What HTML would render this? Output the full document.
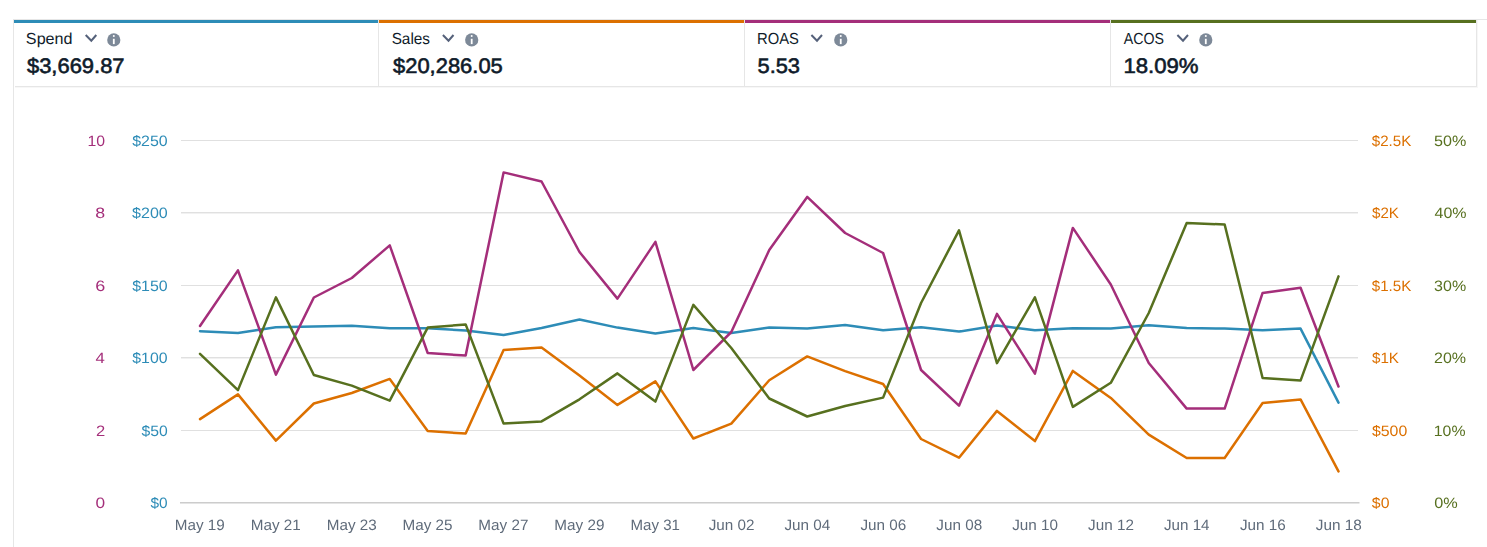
<!DOCTYPE html><html><head><meta charset="utf-8"><style>html,body{margin:0;padding:0;background:#fff;width:1487px;height:547px;overflow:hidden}svg{display:block}text{font-family:"Liberation Sans",sans-serif;text-rendering:geometricPrecision}</style></head><body>
<svg width="1487" height="547" viewBox="0 0 1487 547">
<rect x="13" y="19" width="1474" height="1" fill="#e6e6e6"/>
<rect x="13" y="19" width="1" height="528" fill="#e6e6e6"/>
<rect x="378" y="19" width="1" height="68" fill="#e6e6e6"/>
<rect x="744" y="19" width="1" height="68" fill="#e6e6e6"/>
<rect x="1110" y="19" width="1" height="68" fill="#e6e6e6"/>
<rect x="1476" y="19" width="1" height="68" fill="#e6e6e6"/>
<rect x="15" y="86" width="1462" height="1" fill="#e6e6e6"/>
<rect x="15" y="87" width="1463" height="1" fill="#f7f7f7"/>
<rect x="1477" y="20" width="1" height="67" fill="#f7f7f7"/>
<rect x="14" y="20" width="364" height="3" fill="#2d8cb7"/>
<rect x="379" y="20" width="365" height="3" fill="#dc7000"/>
<rect x="745" y="20" width="365" height="3" fill="#a42e7a"/>
<rect x="1111" y="20" width="365" height="3" fill="#57701f"/>
<path d="M85.70 35.0 L91.30 40.7 L96.30 35.0" fill="none" stroke="#55617a" stroke-width="2"/>
<circle cx="113.80" cy="39.9" r="6.6" fill="#7d8998"/>
<circle cx="113.80" cy="36.1" r="1.0" fill="#fff"/>
<rect x="112.90" y="38.8" width="1.8" height="5.3" fill="#fff"/>
<path d="M442.90 35.0 L448.50 40.7 L453.50 35.0" fill="none" stroke="#55617a" stroke-width="2"/>
<circle cx="471.70" cy="39.9" r="6.6" fill="#7d8998"/>
<circle cx="471.70" cy="36.1" r="1.0" fill="#fff"/>
<rect x="470.80" y="38.8" width="1.8" height="5.3" fill="#fff"/>
<path d="M811.40 35.0 L817.00 40.7 L822.00 35.0" fill="none" stroke="#55617a" stroke-width="2"/>
<circle cx="840.75" cy="39.9" r="6.6" fill="#7d8998"/>
<circle cx="840.75" cy="36.1" r="1.0" fill="#fff"/>
<rect x="839.85" y="38.8" width="1.8" height="5.3" fill="#fff"/>
<path d="M1177.40 35.0 L1183.00 40.7 L1188.00 35.0" fill="none" stroke="#55617a" stroke-width="2"/>
<circle cx="1205.80" cy="39.9" r="6.6" fill="#7d8998"/>
<circle cx="1205.80" cy="36.1" r="1.0" fill="#fff"/>
<rect x="1204.90" y="38.8" width="1.8" height="5.3" fill="#fff"/>
<rect x="181" y="140" width="1177" height="1" fill="#e0e0e0"/>
<rect x="181" y="212" width="1177" height="1" fill="#e0e0e0"/>
<rect x="181" y="213" width="1177" height="1" fill="#f1f1f1"/>
<rect x="181" y="285" width="1177" height="1" fill="#e0e0e0"/>
<rect x="181" y="357" width="1177" height="1" fill="#e0e0e0"/>
<rect x="181" y="358" width="1177" height="1" fill="#f1f1f1"/>
<rect x="181" y="430" width="1177" height="1" fill="#e0e0e0"/>
<rect x="180" y="502" width="1179.5" height="1" fill="#cccccc"/>
<rect x="180" y="503" width="1179.5" height="1" fill="#e4e4e4"/>
<text x="25.89" y="44.00" font-size="16" font-weight="normal" fill="#0f1b2a" textLength="46.67" lengthAdjust="spacingAndGlyphs">Spend</text>
<text x="391.64" y="44.00" font-size="16" font-weight="normal" fill="#0f1b2a" textLength="38.41" lengthAdjust="spacingAndGlyphs">Sales</text>
<text x="757.12" y="44.00" font-size="16" font-weight="normal" fill="#0f1b2a" textLength="41.84" lengthAdjust="spacingAndGlyphs">ROAS</text>
<text x="1123.75" y="44.00" font-size="16" font-weight="normal" fill="#0f1b2a" textLength="40.22" lengthAdjust="spacingAndGlyphs">ACOS</text>
<text x="26.96" y="73.00" font-size="21" font-weight="normal" fill="#0f1b2a" stroke="#0f1b2a" stroke-width="0.6" textLength="97.63" lengthAdjust="spacingAndGlyphs">$3,669.87</text>
<text x="393.02" y="73.00" font-size="21" font-weight="normal" fill="#0f1b2a" stroke="#0f1b2a" stroke-width="0.6" textLength="109.76" lengthAdjust="spacingAndGlyphs">$20,286.05</text>
<text x="757.51" y="73.00" font-size="21" font-weight="normal" fill="#0f1b2a" stroke="#0f1b2a" stroke-width="0.6" textLength="42.49" lengthAdjust="spacingAndGlyphs">5.53</text>
<text x="1123.40" y="73.00" font-size="21" font-weight="normal" fill="#0f1b2a" stroke="#0f1b2a" stroke-width="0.6" textLength="75.20" lengthAdjust="spacingAndGlyphs">18.09%</text>
<g style="will-change:transform">
<text x="87.46" y="146.00" font-size="15" font-weight="normal" fill="#a42e7a" textLength="17.59" lengthAdjust="spacingAndGlyphs">10</text>
<text x="95.29" y="218.00" font-size="15" font-weight="normal" fill="#a42e7a" textLength="9.87" lengthAdjust="spacingAndGlyphs">8</text>
<text x="95.20" y="291.00" font-size="15" font-weight="normal" fill="#a42e7a" textLength="10.01" lengthAdjust="spacingAndGlyphs">6</text>
<text x="95.62" y="363.00" font-size="15" font-weight="normal" fill="#a42e7a" textLength="9.32" lengthAdjust="spacingAndGlyphs">4</text>
<text x="95.90" y="436.00" font-size="15" font-weight="normal" fill="#a42e7a" textLength="9.23" lengthAdjust="spacingAndGlyphs">2</text>
<text x="95.51" y="508.00" font-size="15" font-weight="normal" fill="#a42e7a" textLength="9.62" lengthAdjust="spacingAndGlyphs">0</text>
<text x="132.24" y="146.00" font-size="15" font-weight="normal" fill="#2d8cb7" textLength="35.50" lengthAdjust="spacingAndGlyphs">$250</text>
<text x="132.02" y="218.00" font-size="15" font-weight="normal" fill="#2d8cb7" textLength="35.76" lengthAdjust="spacingAndGlyphs">$200</text>
<text x="132.24" y="291.00" font-size="15" font-weight="normal" fill="#2d8cb7" textLength="35.50" lengthAdjust="spacingAndGlyphs">$150</text>
<text x="132.29" y="363.00" font-size="15" font-weight="normal" fill="#2d8cb7" textLength="35.31" lengthAdjust="spacingAndGlyphs">$100</text>
<text x="141.50" y="436.00" font-size="15" font-weight="normal" fill="#2d8cb7" textLength="26.28" lengthAdjust="spacingAndGlyphs">$50</text>
<text x="150.44" y="508.00" font-size="15" font-weight="normal" fill="#2d8cb7" textLength="17.18" lengthAdjust="spacingAndGlyphs">$0</text>
<text x="1371.79" y="146.00" font-size="15" font-weight="normal" fill="#dc7000" textLength="39.50" lengthAdjust="spacingAndGlyphs">$2.5K</text>
<text x="1371.99" y="218.00" font-size="15" font-weight="normal" fill="#dc7000" textLength="26.99" lengthAdjust="spacingAndGlyphs">$2K</text>
<text x="1371.79" y="291.00" font-size="15" font-weight="normal" fill="#dc7000" textLength="39.50" lengthAdjust="spacingAndGlyphs">$1.5K</text>
<text x="1371.99" y="363.00" font-size="15" font-weight="normal" fill="#dc7000" textLength="26.99" lengthAdjust="spacingAndGlyphs">$1K</text>
<text x="1371.91" y="436.00" font-size="15" font-weight="normal" fill="#dc7000" textLength="35.32" lengthAdjust="spacingAndGlyphs">$500</text>
<text x="1371.85" y="508.00" font-size="15" font-weight="normal" fill="#dc7000" textLength="17.61" lengthAdjust="spacingAndGlyphs">$0</text>
<text x="1434.03" y="146.00" font-size="15" font-weight="normal" fill="#57701f" textLength="32.29" lengthAdjust="spacingAndGlyphs">50%</text>
<text x="1434.55" y="218.00" font-size="15" font-weight="normal" fill="#57701f" textLength="32.06" lengthAdjust="spacingAndGlyphs">40%</text>
<text x="1434.12" y="291.00" font-size="15" font-weight="normal" fill="#57701f" textLength="32.05" lengthAdjust="spacingAndGlyphs">30%</text>
<text x="1434.03" y="363.00" font-size="15" font-weight="normal" fill="#57701f" textLength="32.10" lengthAdjust="spacingAndGlyphs">20%</text>
<text x="1433.79" y="436.00" font-size="15" font-weight="normal" fill="#57701f" textLength="31.68" lengthAdjust="spacingAndGlyphs">10%</text>
<text x="1434.21" y="508.00" font-size="15" font-weight="normal" fill="#57701f" textLength="23.54" lengthAdjust="spacingAndGlyphs">0%</text>
<text x="174.88" y="530.30" font-size="15" font-weight="normal" fill="#5f6b7a" textLength="49.93" lengthAdjust="spacingAndGlyphs">May 19</text>
<text x="250.71" y="530.30" font-size="15" font-weight="normal" fill="#5f6b7a" textLength="50.05" lengthAdjust="spacingAndGlyphs">May 21</text>
<text x="326.76" y="530.30" font-size="15" font-weight="normal" fill="#5f6b7a" textLength="49.91" lengthAdjust="spacingAndGlyphs">May 23</text>
<text x="402.61" y="530.30" font-size="15" font-weight="normal" fill="#5f6b7a" textLength="49.95" lengthAdjust="spacingAndGlyphs">May 25</text>
<text x="478.38" y="530.30" font-size="15" font-weight="normal" fill="#5f6b7a" textLength="50.02" lengthAdjust="spacingAndGlyphs">May 27</text>
<text x="554.37" y="530.30" font-size="15" font-weight="normal" fill="#5f6b7a" textLength="50.07" lengthAdjust="spacingAndGlyphs">May 29</text>
<text x="630.54" y="530.30" font-size="15" font-weight="normal" fill="#5f6b7a" textLength="49.36" lengthAdjust="spacingAndGlyphs">May 31</text>
<text x="708.67" y="530.30" font-size="15" font-weight="normal" fill="#5f6b7a" textLength="45.80" lengthAdjust="spacingAndGlyphs">Jun 02</text>
<text x="784.41" y="530.30" font-size="15" font-weight="normal" fill="#5f6b7a" textLength="45.81" lengthAdjust="spacingAndGlyphs">Jun 04</text>
<text x="860.43" y="530.30" font-size="15" font-weight="normal" fill="#5f6b7a" textLength="45.79" lengthAdjust="spacingAndGlyphs">Jun 06</text>
<text x="936.37" y="530.30" font-size="15" font-weight="normal" fill="#5f6b7a" textLength="45.80" lengthAdjust="spacingAndGlyphs">Jun 08</text>
<text x="1012.16" y="530.30" font-size="15" font-weight="normal" fill="#5f6b7a" textLength="45.82" lengthAdjust="spacingAndGlyphs">Jun 10</text>
<text x="1088.10" y="530.30" font-size="15" font-weight="normal" fill="#5f6b7a" textLength="45.84" lengthAdjust="spacingAndGlyphs">Jun 12</text>
<text x="1164.01" y="530.30" font-size="15" font-weight="normal" fill="#5f6b7a" textLength="45.56" lengthAdjust="spacingAndGlyphs">Jun 14</text>
<text x="1239.91" y="530.30" font-size="15" font-weight="normal" fill="#5f6b7a" textLength="45.81" lengthAdjust="spacingAndGlyphs">Jun 16</text>
<text x="1315.74" y="530.30" font-size="15" font-weight="normal" fill="#5f6b7a" textLength="46.00" lengthAdjust="spacingAndGlyphs">Jun 18</text>
</g>
<polyline points="200.00,331.20 237.95,333.00 275.90,327.20 313.85,326.60 351.80,325.80 389.75,328.20 427.70,328.20 465.65,330.60 503.60,335.00 541.55,328.00 579.50,319.50 617.45,327.60 655.40,333.60 693.35,328.00 731.30,333.00 769.25,327.60 807.20,328.60 845.15,325.00 883.10,330.20 921.05,327.20 959.00,331.60 996.95,325.60 1034.90,330.20 1072.85,328.20 1110.80,328.60 1148.75,325.20 1186.70,328.00 1224.65,328.60 1262.60,330.20 1300.55,328.60 1338.50,402.60" fill="none" stroke="#2d8cb7" stroke-width="2.5" stroke-linejoin="round" stroke-linecap="round"/>
<polyline points="200.00,419.10 237.95,394.40 275.90,440.60 313.85,403.50 351.80,393.00 389.75,378.90 427.70,431.00 465.65,433.60 503.60,350.00 541.55,347.40 579.50,375.50 617.45,404.90 655.40,381.40 693.35,438.50 731.30,423.60 769.25,380.20 807.20,356.40 845.15,371.10 883.10,384.00 921.05,439.00 959.00,457.70 996.95,410.90 1034.90,441.10 1072.85,370.90 1110.80,397.90 1148.75,434.60 1186.70,458.00 1224.65,458.00 1262.60,403.00 1300.55,399.40 1338.50,471.40" fill="none" stroke="#dc7000" stroke-width="2.5" stroke-linejoin="round" stroke-linecap="round"/>
<polyline points="200.00,326.00 237.95,270.40 275.90,374.60 313.85,297.50 351.80,278.00 389.75,245.40 427.70,353.00 465.65,355.60 503.60,172.40 541.55,181.50 579.50,252.00 617.45,298.60 655.40,241.90 693.35,370.00 731.30,332.00 769.25,250.00 807.20,196.90 845.15,233.00 883.10,253.00 921.05,370.00 959.00,405.70 996.95,313.90 1034.90,373.60 1072.85,227.90 1110.80,284.50 1148.75,363.00 1186.70,408.60 1224.65,408.60 1262.60,292.90 1300.55,287.70 1338.50,386.50" fill="none" stroke="#a42e7a" stroke-width="2.5" stroke-linejoin="round" stroke-linecap="round"/>
<polyline points="200.00,353.80 237.95,390.10 275.90,297.40 313.85,375.00 351.80,385.60 389.75,400.60 427.70,327.60 465.65,324.40 503.60,423.60 541.55,421.40 579.50,399.30 617.45,373.40 655.40,401.60 693.35,304.90 731.30,348.00 769.25,398.50 807.20,416.50 845.15,406.00 883.10,397.60 921.05,303.00 959.00,230.40 996.95,363.10 1034.90,297.40 1072.85,406.90 1110.80,382.80 1148.75,313.00 1186.70,222.90 1224.65,224.50 1262.60,378.00 1300.55,380.60 1338.50,276.40" fill="none" stroke="#57701f" stroke-width="2.5" stroke-linejoin="round" stroke-linecap="round"/>
</svg></body></html>
